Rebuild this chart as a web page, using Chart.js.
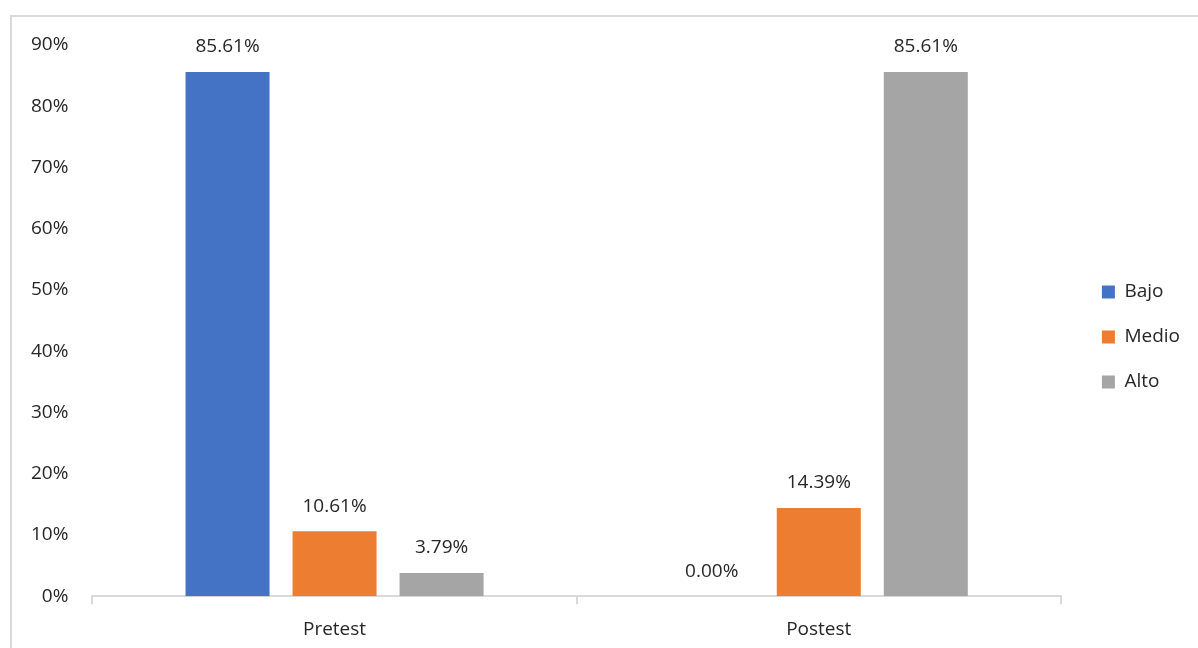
<!DOCTYPE html>
<html>
<head>
<meta charset="utf-8">
<script src="https://cdn.jsdelivr.net/npm/chart.js@4"></script>
<style>
  html, body { margin: 0; padding: 0; background: #fff; overflow: hidden; }
  #wrap { position: relative; width: 1198px; height: 648px; }
  #frame { position: absolute; left: 10px; top: 15px; width: 1300px; height: 700px; border: 2px solid #d9d9d9; box-sizing: border-box; }
  canvas { position: absolute; left: 0; top: 0; }
</style>
</head>
<body>
<div id="wrap">
  <div id="frame"></div>
  <canvas id="resultChart" width="1198" height="648"></canvas>
</div>
<script>
// Niveles pretest / postest
const categories = ['Pretest', 'Postest'];
const bajo = [85.61, 0.00];
const medio = [10.61, 14.39];
const alto = [3.79, 85.61];
const seriesNames = ['Bajo', 'Medio', 'Alto'];
const colores = ['#4472C4', '#ED7D31', '#A5A5A5'];

const FONT = { family: 'Open Sans', size: 19 };
const LEGEND_SHIFT = 15;

// etiquetas encima de cada barra
const barLabels = {
    id: 'barLabels',
    afterLayout(chart) {
        // leyenda un poco separada del area del grafico
        const lg = chart.legend;
        lg.left += LEGEND_SHIFT;
        lg.right += LEGEND_SHIFT;
        lg.top -= 13;
        lg.bottom -= 13;
    },
    afterDatasetsDraw(chart) {
        const c = chart.ctx;
        c.save();
        c.font = FONT.size + 'px "' + FONT.family + '"';
        c.fillStyle = '#262626';
        c.textAlign = 'center';
        c.textBaseline = 'middle';
        chart.data.datasets.forEach((ds, i) => {
            chart.getDatasetMeta(i).data.forEach((bar, j) => {
                c.fillText(ds.data[j].toFixed(2) + '%', bar.x, bar.y - 25);
            });
        });
        c.restore();
    }
};

const ctx = document.getElementById('resultChart').getContext('2d');
const resultChart = new Chart(ctx, {
    type: 'bar',
    data: {
        labels: categories,
        datasets: [bajo, medio, alto].map((d, i) => ({
            label: seriesNames[i],
            data: d,
            backgroundColor: colores[i],
            barPercentage: 0.785,
            categoryPercentage: 0.663
        }))
    },
    options: {
        responsive: false,
        animation: false,
        layout: { padding: { left: 15, top: 45, right: 23, bottom: -7 } },
        scales: {
            y: {
                min: 0,
                max: 90,
                ticks: {
                    stepSize: 10,
                    color: '#262626',
                    font: FONT,
                    padding: 16,
                    callback: v => v + '%'
                },
                grid: { display: false },
                border: { display: false }
            },
            x: {
                ticks: {
                    color: '#262626',
                    font: FONT,
                    padding: 14
                },
                grid: {
                    offset: true,
                    drawOnChartArea: false,
                    tickLength: 8,
                    color: '#d9d9d9',
                    lineWidth: 2
                },
                border: { color: '#d9d9d9', width: 2 }
            }
        },
        plugins: {
            legend: {
                position: 'right',
                labels: {
                    color: '#262626',
                    font: FONT,
                    boxWidth: 13,
                    boxHeight: 13,
                    padding: 26
                }
            },
            tooltip: { enabled: false }
        }
    },
    plugins: [barLabels]
});
</script>
</body>
</html>
